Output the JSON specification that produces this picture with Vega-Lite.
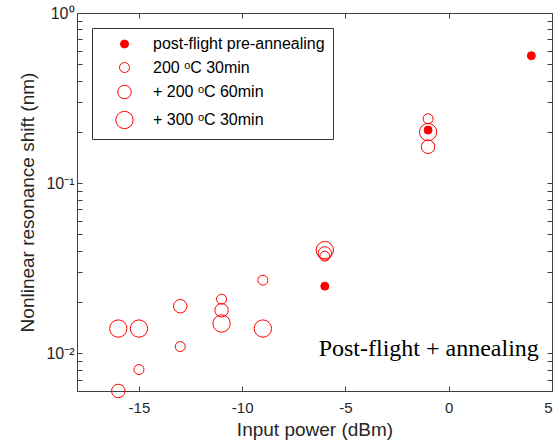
{
  "$schema": "https://vega.github.io/schema/vega-lite/v6.json",
  "width": 475,
  "height": 378,
  "autosize": {"type": "none"},
  "padding": {"left": 77, "top": 13, "right": 1, "bottom": 54},
  "background": "white",
  "config": {
    "view": {"stroke": null},
    "font": "Liberation Sans",
    "axis": {"grid": false, "domainColor": "#404040", "tickColor": "#404040", "labelColor": "#262626", "titleColor": "#262626", "labelFont": "Liberation Sans", "titleFont": "Liberation Sans", "titleFontWeight": "normal"}
  },
  "layer": [
    {
      "data": {
        "values": [
          {"x": -16, "y": 0.01397, "group": "+ 300 ᵒC 30min"},
          {"x": -16, "y": 0.0060, "group": "+ 200 ᵒC 60min"},
          {"x": -15, "y": 0.01397, "group": "+ 300 ᵒC 30min"},
          {"x": -15, "y": 0.00802, "group": "200 ᵒC 30min"},
          {"x": -13, "y": 0.0189, "group": "+ 200 ᵒC 60min"},
          {"x": -13, "y": 0.01095, "group": "200 ᵒC 30min"},
          {"x": -11, "y": 0.0208, "group": "200 ᵒC 30min"},
          {"x": -11, "y": 0.0179, "group": "+ 200 ᵒC 60min"},
          {"x": -11, "y": 0.01496, "group": "+ 300 ᵒC 30min"},
          {"x": -9, "y": 0.0269, "group": "200 ᵒC 30min"},
          {"x": -9, "y": 0.01397, "group": "+ 300 ᵒC 30min"},
          {"x": -6, "y": 0.0404, "group": "+ 300 ᵒC 30min"},
          {"x": -6, "y": 0.0386, "group": "+ 200 ᵒC 60min"},
          {"x": -6, "y": 0.0372, "group": "200 ᵒC 30min"},
          {"x": -1, "y": 0.239, "group": "200 ᵒC 30min"},
          {"x": -1, "y": 0.1995, "group": "+ 300 ᵒC 30min"},
          {"x": -1, "y": 0.1636, "group": "+ 200 ᵒC 60min"},
          {"x": -6, "y": 0.0248, "group": "post-flight pre-annealing"},
          {"x": -1, "y": 0.205, "group": "post-flight pre-annealing"},
          {"x": 4, "y": 0.561, "group": "post-flight pre-annealing"}
        ]
      },
      "mark": {"type": "point", "shape": "circle", "strokeWidth": 1, "opacity": 1},
      "encoding": {
        "x": {
          "field": "x", "type": "quantitative",
          "scale": {"domain": [-18, 5], "nice": false, "zero": false},
          "axis": {"orient": "bottom", "title": "Input power (dBm)", "values": [-15, -10, -5, 0, 5], "labelExpr": "datum.value + ''", "tickSize": -5, "labelPadding": 14, "labelFontSize": 15, "titleFontSize": 19, "titlePadding": 5}
        },
        "y": {
          "field": "y", "type": "quantitative",
          "scale": {"type": "log", "domain": [0.006, 1], "nice": false},
          "axis": {"orient": "left", "title": "Nonlinear resonance shift (nm)", "values": [0.006, 0.007, 0.008, 0.009, 0.01, 0.02, 0.03, 0.04, 0.05, 0.06, 0.07, 0.08, 0.09, 0.1, 0.2, 0.3, 0.4, 0.5, 0.6, 0.7, 0.8, 0.9, 1], "labelExpr": "datum.value == 1 ? '10⁰' : datum.value == 0.1 ? '10⁻¹' : datum.value == 0.01 ? '10⁻²' : ''", "tickSize": -5, "labelPadding": 8, "labelFontSize": 16, "titleFontSize": 19, "titlePadding": 8}
        },
        "fill": {
          "field": "group", "type": "nominal",
          "scale": {"type": "ordinal", "domain": ["post-flight pre-annealing", "200 ᵒC 30min", "+ 200 ᵒC 60min", "+ 300 ᵒC 30min"], "range": ["#ff0000", "transparent", "transparent", "transparent"]},
          "legend": {"title": null, "orient": "none", "legendX": 15, "legendY": 15, "strokeColor": "#333333", "fillColor": "white", "padding": 8, "labelFontSize": 16, "labelLimit": 0, "labelColor": "#000000", "symbolOffset": 15, "labelOffset": 19, "rowPadding": 7.5, "symbolStrokeWidth": 1, "symbolType": "circle"}
        },
        "stroke": {
          "field": "group", "type": "nominal",
          "scale": {"type": "ordinal", "domain": ["post-flight pre-annealing", "200 ᵒC 30min", "+ 200 ᵒC 60min", "+ 300 ᵒC 30min"], "range": ["#ff0000", "#ff0000", "#ff0000", "#ff0000"]}
        },
        "size": {
          "field": "group", "type": "nominal",
          "scale": {"type": "ordinal", "domain": ["post-flight pre-annealing", "200 ᵒC 30min", "+ 200 ᵒC 60min", "+ 300 ᵒC 30min"], "range": [64, 100, 182, 300]}
        }
      }
    },
    {
      "data": {"values": [{"x": -6.3, "y": 0.0097, "label": "Post-flight + annealing"}]},
      "mark": {"type": "text", "font": "Liberation Serif", "fontSize": 24, "align": "left", "baseline": "alphabetic", "color": "#000000"},
      "encoding": {
        "x": {"field": "x", "type": "quantitative", "scale": {"domain": [-18, 5], "nice": false, "zero": false},
          "axis": {"orient": "top", "title": null, "values": [-15, -10, -5, 0, 5], "labels": false, "tickSize": -5}},
        "y": {"field": "y", "type": "quantitative", "scale": {"type": "log", "domain": [0.006, 1], "nice": false},
          "axis": {"orient": "right", "title": null, "values": [0.006, 0.007, 0.008, 0.009, 0.01, 0.02, 0.03, 0.04, 0.05, 0.06, 0.07, 0.08, 0.09, 0.1, 0.2, 0.3, 0.4, 0.5, 0.6, 0.7, 0.8, 0.9, 1], "labels": false, "tickSize": -5}},
        "text": {"field": "label"}
      }
    }
  ],
  "resolve": {"axis": {"x": "independent", "y": "independent"}}
}
